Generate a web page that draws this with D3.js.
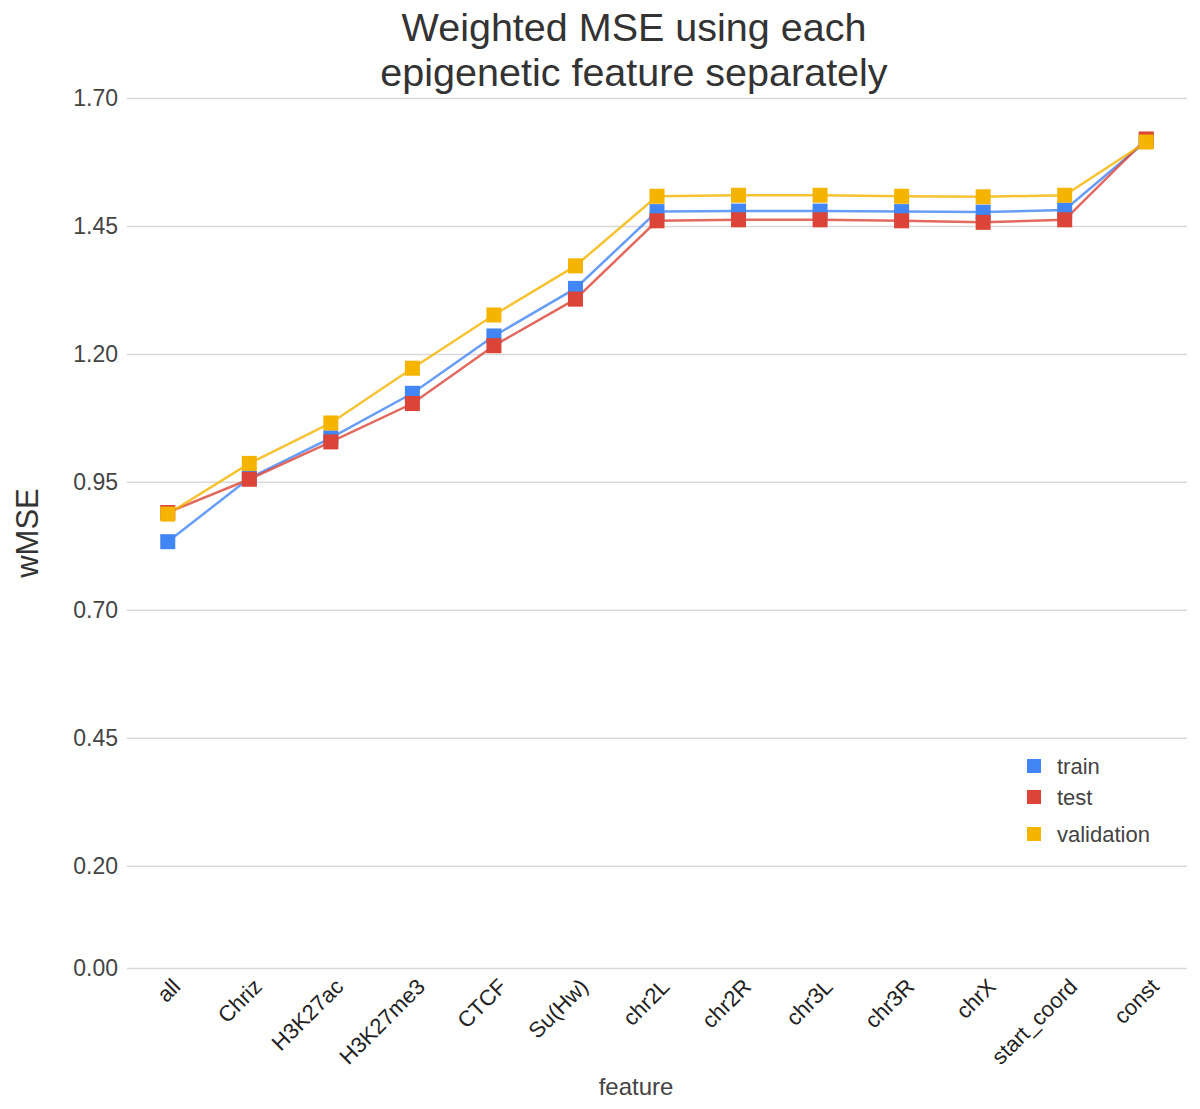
<!DOCTYPE html>
<html>
<head>
<meta charset="utf-8">
<script src="https://cdn.jsdelivr.net/npm/d3@7"></script>
<style>
  body { margin: 0; background: #fff; }
  text { font-family: "Liberation Sans", Arial, sans-serif; }
</style>
</head>
<body>
<div id="chart"></div>
<script>
var features = ["all", "Chriz", "H3K27ac", "H3K27me3", "CTCF", "Su(Hw)", "chr2L",
                "chr2R", "chr3L", "chr3R", "chrX", "start_coord", "const"];
var train      = [0.833, 0.957, 1.036, 1.123, 1.235, 1.328, 1.478, 1.479, 1.479, 1.478, 1.477, 1.481, 1.616];
var test       = [0.890, 0.955, 1.028, 1.103, 1.216, 1.307, 1.460, 1.462, 1.462, 1.460, 1.457, 1.462, 1.620];
var validation = [0.887, 0.986, 1.065, 1.172, 1.276, 1.372, 1.508, 1.510, 1.510, 1.508, 1.507, 1.510, 1.614];
var yTicks = [0, 0.20, 0.45, 0.70, 0.95, 1.20, 1.45, 1.70];

var series = [
  {name: "train", values: train, color: "#4285f4"},
  {name: "test", values: test, color: "#db4437"},
  {name: "validation", values: validation, color: "#f4b400"}
];

var W = 1200, H = 1109;
var margin = {top: 98, right: 13, bottom: 141, left: 127},
    width = W - margin.left - margin.right,
    height = H - margin.top - margin.bottom;

var svg = d3.select("#chart").append("svg")
    .attr("width", W)
    .attr("height", H);

var g = svg.append("g")
    .attr("transform", "translate(" + margin.left + "," + margin.top + ")");

// set the ranges
var x = d3.scaleBand().domain(features).range([0, width]).padding(0);
var y = d3.scaleLinear().domain([0, 1.7]).range([height, 0]);
var cx = function(i) { return x(features[i]) + x.bandwidth() / 2; };

// gridlines + y tick labels
var yAxis = g.append("g")
    .call(d3.axisLeft(y).tickValues(yTicks).tickSize(-width).tickPadding(9)
      .tickFormat(d3.format(".2f")));
yAxis.select(".domain").remove();
yAxis.selectAll(".tick line").attr("stroke", "#d9d9d9").attr("stroke-width", 1.5);
yAxis.selectAll(".tick text").attr("fill", "#444").style("font-size", "23px");

// x tick labels, rotated
var xAxis = g.append("g")
    .attr("transform", "translate(0," + height + ")")
    .call(d3.axisBottom(x).tickSize(0).tickPadding(0));
xAxis.select(".domain").remove();
xAxis.selectAll(".tick text")
    .attr("fill", "#222")
    .style("font-size", "22px")
    .attr("text-anchor", "end")
    .attr("dy", null)
    .attr("transform", "translate(14,20) rotate(-45)");

// lines
var line = d3.line()
    .x(function(d, i) { return cx(i); })
    .y(function(d) { return y(d); });

series.forEach(function(s) {
  g.append("path")
    .datum(s.values)
    .attr("fill", "none")
    .attr("stroke", s.color)
    .attr("stroke-opacity", 0.8)
    .attr("stroke-width", 2.5)
    .attr("d", line);
});

// markers
var ms = 15;
series.forEach(function(s) {
  g.selectAll(null)
    .data(s.values)
    .enter().append("rect")
      .attr("x", function(d, i) { return cx(i) - ms / 2; })
      .attr("y", function(d) { return y(d) - ms / 2; })
      .attr("width", ms)
      .attr("height", ms)
      .attr("fill", s.color);
});

// title
svg.append("text")
    .attr("x", 634).attr("y", 41)
    .attr("text-anchor", "middle")
    .attr("fill", "#333")
    .style("font-size", "39.5px")
    .text("Weighted MSE using each");
svg.append("text")
    .attr("x", 634).attr("y", 86)
    .attr("text-anchor", "middle")
    .attr("fill", "#333")
    .style("font-size", "39.5px")
    .text("epigenetic feature separately");

// axis titles
svg.append("text")
    .attr("transform", "translate(38,533) rotate(-90)")
    .attr("text-anchor", "middle")
    .attr("fill", "#333")
    .style("font-size", "31px")
    .text("wMSE");

svg.append("text")
    .attr("x", 636).attr("y", 1095)
    .attr("text-anchor", "middle")
    .attr("fill", "#444")
    .style("font-size", "24px")
    .text("feature");

// legend
var legend = svg.append("g").attr("transform", "translate(1027,759)");
var legendY = [0, 31, 68];
series.forEach(function(s, i) {
  var row = legend.append("g").attr("transform", "translate(0," + legendY[i] + ")");
  row.append("rect").attr("width", 14).attr("height", 14).attr("fill", s.color);
  row.append("text")
    .attr("x", 30).attr("y", 15)
    .attr("fill", "#444")
    .style("font-size", "22px")
    .text(s.name);
});
</script>
</body>
</html>
